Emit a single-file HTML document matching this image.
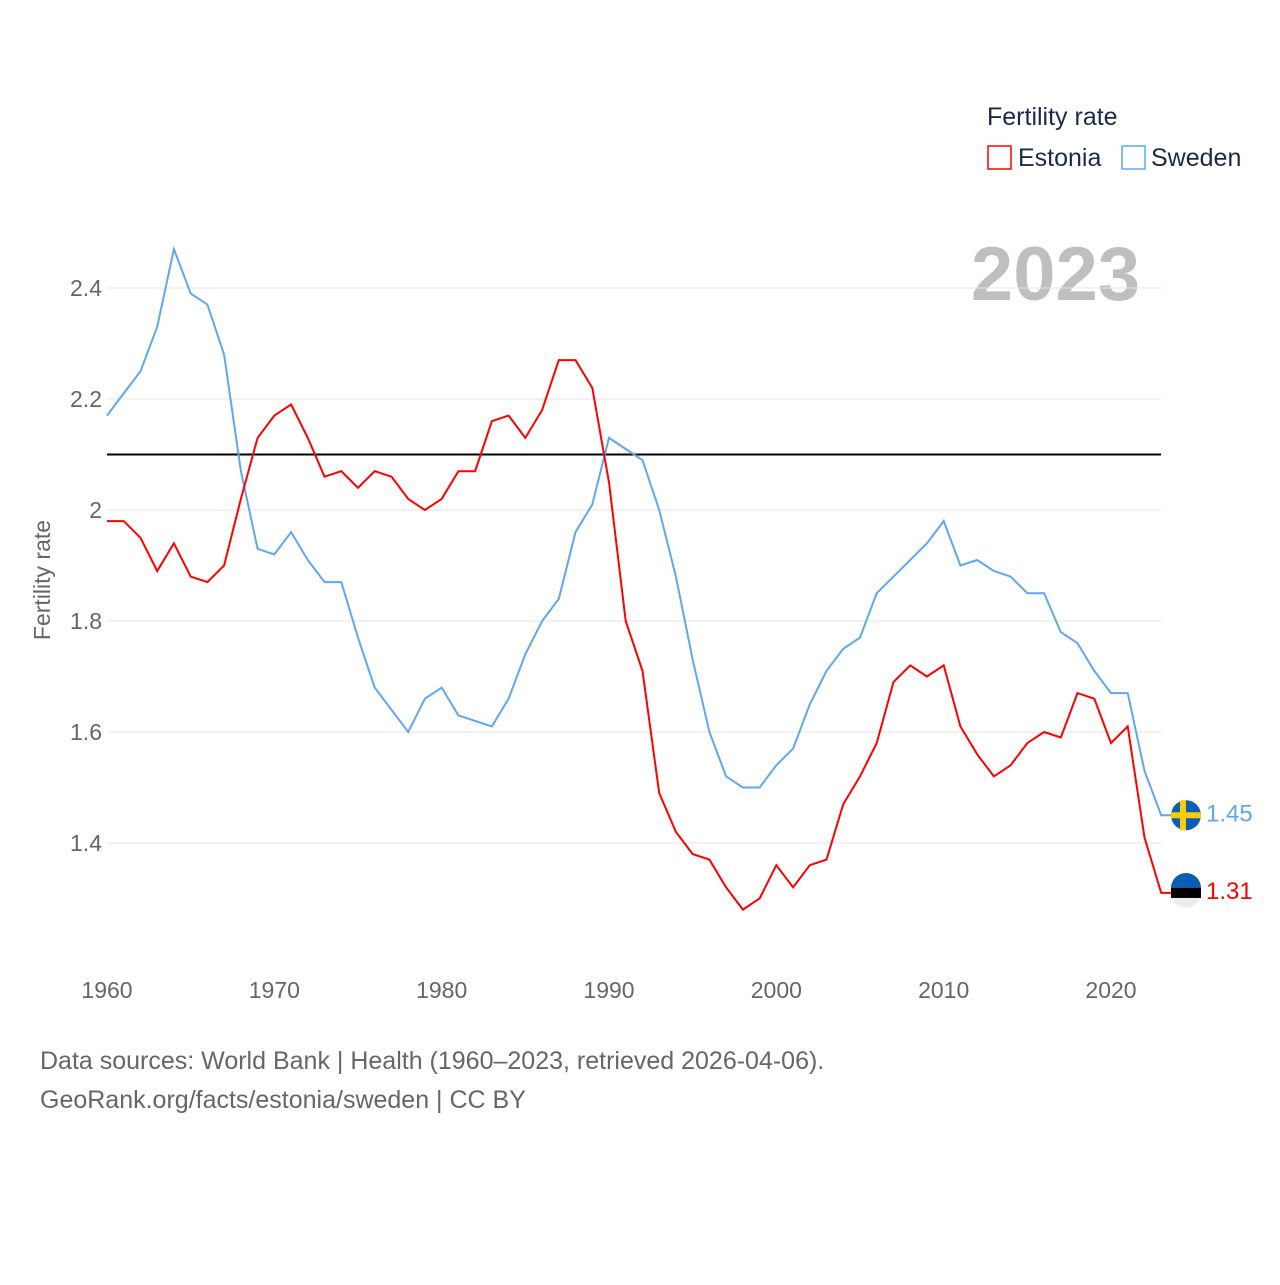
<!DOCTYPE html>
<html><head><meta charset="utf-8"><style>
body{margin:0;background:#fff;font-family:"Liberation Sans",sans-serif}
</style></head><body>
<svg id="chart" width="1280" height="1280" viewBox="0 0 1280 1280" xmlns="http://www.w3.org/2000/svg" font-family="Liberation Sans, sans-serif">
<text x="987" y="125" font-size="25" fill="#1a2a4a">Fertility rate</text>
<g><rect x="988" y="146" width="23" height="23" fill="none" stroke="#f00" stroke-width="1.5"/><text x="1018" y="166" font-size="25" fill="#1a2a4a">Estonia</text></g>
<g><rect x="1122" y="146" width="23" height="23" fill="none" stroke="#5fa8f0" stroke-width="1.5"/><text x="1151" y="166" font-size="25" fill="#1a2a4a">Sweden</text></g>
<text x="1140" y="300" font-size="76" font-weight="bold" fill="#bfbfbf" text-anchor="end">2023</text>
<text transform="translate(50,580) rotate(-90)" font-size="23" fill="#666" text-anchor="middle">Fertility rate</text>
<g id="grid"></g><g id="yticks"></g><g id="xticks"></g>
<line id="ref" stroke="#000" stroke-width="2"/>
<path id="sweden" fill="none" stroke="#5fa8f0" stroke-width="2"/>
<path id="estonia" fill="none" stroke="#f00" stroke-width="2"/>
<g id="ends"></g>
<text x="40" y="1069" font-size="25" fill="#666">Data sources: World Bank | Health (1960–2023, retrieved 2026-04-06).</text>
<text x="40" y="1108" font-size="25" fill="#666">GeoRank.org/facts/estonia/sweden | CC BY</text>
</svg>
<script>
const years=[];for(let y=1960;y<=2023;y++)years.push(y);
const estonia=[1.98,1.98,1.95,1.89,1.94,1.88,1.87,1.90,2.02,2.13,2.17,2.19,2.13,2.06,2.07,2.04,2.07,2.06,2.02,2.00,2.02,2.07,2.07,2.16,2.17,2.13,2.18,2.27,2.27,2.22,2.05,1.80,1.71,1.49,1.42,1.38,1.37,1.32,1.28,1.30,1.36,1.32,1.36,1.37,1.47,1.52,1.58,1.69,1.72,1.70,1.72,1.61,1.56,1.52,1.54,1.58,1.60,1.59,1.67,1.66,1.58,1.61,1.41,1.31];
const sweden=[2.17,2.21,2.25,2.33,2.47,2.39,2.37,2.28,2.07,1.93,1.92,1.96,1.91,1.87,1.87,1.77,1.68,1.64,1.60,1.66,1.68,1.63,1.62,1.61,1.66,1.74,1.80,1.84,1.96,2.01,2.13,2.11,2.09,2.00,1.88,1.73,1.60,1.52,1.50,1.50,1.54,1.57,1.65,1.71,1.75,1.77,1.85,1.88,1.91,1.94,1.98,1.90,1.91,1.89,1.88,1.85,1.85,1.78,1.76,1.71,1.67,1.67,1.53,1.45];
const yTicks=[1.4,1.6,1.8,2,2.2,2.4];
const xTicks=[1960,1970,1980,1990,2000,2010,2020];
const refLevel=2.1;
const X=y=>107+(y-1960)*(1111-107)/60;
const Y=v=>843-(v-1.4)*555;
const NS="http://www.w3.org/2000/svg";
function mk(t,a,p){const e=document.createElementNS(NS,t);for(const k in a)e.setAttribute(k,a[k]);p.appendChild(e);return e;}
const g=document.getElementById('grid'),yt=document.getElementById('yticks'),xt=document.getElementById('xticks');
yTicks.forEach(v=>{
 const l=mk('line',{x1:107,x2:1161,y1:Y(v),y2:Y(v),stroke:'#e6e6e6','stroke-width':1},g);
 
 
 const t=mk('text',{x:102,y:Y(v)+8,'font-size':23,fill:'#666','text-anchor':'end'},yt);t.textContent=String(v);
 
 
});
xTicks.forEach(v=>{
 const t=mk('text',{x:X(v),y:998,'font-size':23,fill:'#666','text-anchor':'middle'},xt);t.textContent=v;
 
 
});
const r=document.getElementById('ref');r.setAttribute('x1',107);r.setAttribute('x2',1161);r.setAttribute('y1',Y(refLevel));r.setAttribute('y2',Y(refLevel));
function path(d){let s=d.map((v,i)=>(i?'L':'M')+X(years[i]).toFixed(1)+','+Y(v).toFixed(1)).join('');return s+'L'+(X(2023)+10)+','+Y(d[d.length-1]).toFixed(1);}
document.getElementById('estonia').setAttribute('d',path(estonia));
document.getElementById('sweden').setAttribute('d',path(sweden));
const ends=document.getElementById('ends');
function endMark(d,color,name,flag){
 const v=d[d.length-1],cy=Y(v),cx=1186;
 const c=mk('g',{},ends);
 
 
 if(flag==='se'){
  mk('circle',{cx:cx,cy:cy,r:15,fill:'#0a5fb4'},c);
  mk('rect',{x:cx-15,y:cy-3,width:30,height:6,fill:'#fecc00'},c);
  mk('rect',{x:cx-6,y:cy-15,width:6,height:30,fill:'#fecc00'},c);
 }else{
  mk('circle',{cx:cx,cy:cy,r:15,fill:'#eee'},c);
  mk('path',{d:`M${cx-15},${cy-5}A15,15 0 0 1 ${cx+15},${cy-5}Z`,fill:'#0a5fb4'},c);
  mk('rect',{x:cx-15,y:cy-5,width:30,height:10,fill:'#000'},c);
 }
 const t=mk('text',{x:1206,y:cy+6,'font-size':24,fill:color},c);t.textContent=v.toFixed(2);
}
endMark(sweden,'#5fa8f0','sweden','se');
endMark(estonia,'#f00','estonia','ee');
</script>
</body></html>
